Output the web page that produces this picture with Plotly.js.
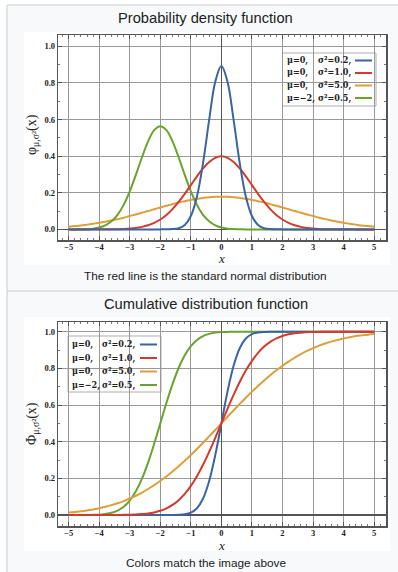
<!DOCTYPE html>
<html><head><meta charset="utf-8">
<script src="https://cdn.plot.ly/plotly-3.0.1.min.js"></script>
<style>html,body{margin:0;padding:0;background:#fff}#chart{width:398px;height:572px}</style>
</head><body><div id="chart"></div>
<script>
// ---- data ----
const xValues = [-5.0,-4.8,-4.6,-4.4,-4.2,-4.0,-3.8,-3.6,-3.4,-3.2,-3.0,-2.8,-2.6,-2.4,-2.2,-2.0,-1.8,-1.6,-1.4,-1.2,-1.0,-0.8,-0.6,-0.4,-0.2,0.0,0.2,0.4,0.6,0.8,1.0,1.2,1.4,1.6,1.8,2.0,2.2,2.4,2.6,2.8,3.0,3.2,3.4,3.6,3.8,4.0,4.2,4.4,4.6,4.8,5.0];

const pdfBlue = [0,0,0,0,0,0,0,0,0,0,0,0,0,0,0,0,0.0003,0.0015,0.0066,0.0244,0.0732,0.180,0.363,0.598,0.807,0.892,0.807,0.598,0.363,0.180,0.0732,0.0244,0.0066,0.0015,0.0003,0,0,0,0,0,0,0,0,0,0,0,0,0,0,0,0];
const pdfRed = [0,0,0,0,0.0001,0.0001,0.0003,0.0006,0.0012,0.0024,0.0044,0.0079,0.0136,0.0224,0.0355,0.054,0.079,0.111,0.150,0.194,0.242,0.290,0.333,0.368,0.391,0.399,0.391,0.368,0.333,0.290,0.242,0.194,0.150,0.111,0.079,0.054,0.0355,0.0224,0.0136,0.0079,0.0044,0.0024,0.0012,0.0006,0.0003,0.0001,0.0001,0,0,0,0];
const pdfOrange = [0.015,0.018,0.021,0.026,0.031,0.036,0.042,0.049,0.056,0.064,0.073,0.081,0.091,0.100,0.110,0.120,0.129,0.138,0.147,0.154,0.161,0.167,0.172,0.176,0.178,0.178,0.178,0.176,0.172,0.167,0.161,0.154,0.147,0.138,0.129,0.120,0.110,0.100,0.091,0.081,0.073,0.064,0.056,0.049,0.042,0.036,0.031,0.026,0.021,0.018,0.015];
const pdfGreen = [0,0,0.001,0.002,0.004,0.010,0.022,0.044,0.079,0.134,0.208,0.298,0.394,0.481,0.542,0.564,0.542,0.481,0.394,0.298,0.208,0.134,0.079,0.044,0.022,0.010,0.004,0.002,0.001,0,0,0,0,0,0,0,0,0,0,0,0,0,0,0,0,0,0,0,0,0,0];

const cdfBlue = [0,0,0,0,0,0,0,0,0,0,0,0,0,0,0,0,0,0,0.001,0.004,0.013,0.037,0.090,0.186,0.327,0.5,0.673,0.814,0.910,0.963,0.987,0.996,0.999,1,1,1,1,1,1,1,1,1,1,1,1,1,1,1,1,1,1];
const cdfRed = [0,0,0,0,0,0,0,0,0.0003,0.001,0.001,0.003,0.005,0.008,0.014,0.023,0.036,0.055,0.081,0.115,0.159,0.212,0.274,0.345,0.421,0.5,0.579,0.655,0.726,0.788,0.841,0.885,0.919,0.945,0.964,0.977,0.986,0.992,0.995,0.997,0.999,0.999,1,1,1,1,1,1,1,1,1];
const cdfOrange = [0.013,0.016,0.020,0.025,0.030,0.037,0.045,0.054,0.064,0.076,0.090,0.105,0.122,0.142,0.163,0.186,0.210,0.237,0.266,0.296,0.327,0.360,0.394,0.429,0.464,0.5,0.536,0.571,0.606,0.640,0.673,0.704,0.734,0.763,0.790,0.814,0.837,0.858,0.878,0.895,0.910,0.924,0.936,0.946,0.955,0.963,0.970,0.976,0.980,0.984,0.987];
const cdfGreen = [0,0,0,0,0.001,0.002,0.006,0.012,0.024,0.045,0.079,0.129,0.198,0.286,0.389,0.5,0.611,0.714,0.802,0.871,0.921,0.955,0.976,0.988,0.995,0.998,0.999,1,1,1,1,1,1,1,1,1,1,1,1,1,1,1,1,1,1,1,1,1,1,1,1];

const seriesMu = ["μ=0,", "μ=0,", "μ=0,", "μ=−2,"];
const seriesSigma = ["σ²=0.2,", "σ²=1.0,", "σ²=5.0,", "σ²=0.5,"];
const seriesColors = ["#3a64a3", "#d23b2b", "#dca03a", "#6aa22e"];

const xTickVals = [-5,-4,-3,-2,-1,0,1,2,3,4,5];
const xTickText = ["−5","−4","−3","−2","−1","0","1","2","3","4","5"];
const yTickVals = [0,0.2,0.4,0.6,0.8,1.0];
const yTickText = ["0.0","0.2","0.4","0.6","0.8","1.0"];

const titles = ["Probability density function", "Cumulative distribution function"];
const captions = ["The red line is the standard normal distribution", "Colors match the image above"];
const xTitle = "x";
const yTitles = ["φ<sub>μ,σ²</sub>(x)", "Φ<sub>μ,σ²</sub>(x)"];

// ---- layout helpers ----
const W = 398, H = 572;
const px = x => x / W;
const py = y => 1 - y / H;

function trace(y, color, xa, ya) {
  return {x: xValues, y: y, type: 'scatter', mode: 'lines', xaxis: xa, yaxis: ya,
    line: {color: color, width: 2, shape: 'spline', smoothing: 1},
    hoverinfo: 'skip', showlegend: false};
}

const data = [
  trace(pdfOrange, seriesColors[2], 'x', 'y'),
  trace(pdfGreen, seriesColors[3], 'x', 'y'),
  trace(pdfRed, seriesColors[1], 'x', 'y'),
  trace(pdfBlue, seriesColors[0], 'x', 'y'),
  trace(cdfGreen, seriesColors[3], 'x2', 'y2'),
  trace(cdfBlue, seriesColors[0], 'x2', 'y2'),
  trace(cdfOrange, seriesColors[2], 'x2', 'y2'),
  trace(cdfRed, seriesColors[1], 'x2', 'y2')
];

const tickFont = {family: "'Liberation Serif', 'DejaVu Serif', serif", size: 8.5, color: '#222', weight: 'bold'};
const frameColor = '#555';
const gridColor = '#999999';

function xAxis(anchor) {
  return {
    anchor: anchor, domain: [px(58.3), px(386)], range: [-5.34, 5.39],
    tickmode: 'array', tickvals: xTickVals, ticktext: xTickText,
    ticks: 'inside', ticklen: 4, tickwidth: 1, tickcolor: frameColor,
    ticklabelstandoff: -2,
    showline: true, linecolor: frameColor, linewidth: 1.5, mirror: 'allticks',
    showgrid: true, gridcolor: gridColor, gridwidth: 1,
    zeroline: true, zerolinecolor: '#555', zerolinewidth: 1.5,
    minor: {ticks: 'inside', ticklen: 2, tickwidth: 1, dtick: 0.2, tick0: 0, tickcolor: '#777', showgrid: false},
    tickfont: tickFont, fixedrange: true
  };
}
function yAxis(anchor, domain, range) {
  return {
    anchor: anchor, domain: domain, range: range,
    tickmode: 'array', tickvals: yTickVals, ticktext: yTickText,
    ticks: 'inside', ticklen: 4, tickwidth: 1, tickcolor: frameColor,
    showline: true, linecolor: frameColor, linewidth: 1.5, mirror: 'allticks',
    showgrid: true, gridcolor: gridColor, gridwidth: 1,
    zeroline: true, zerolinecolor: '#555', zerolinewidth: 1.5,
    minor: {ticks: 'inside', ticklen: 2, tickwidth: 1, dtick: 0.1, tick0: 0, tickcolor: '#777', showgrid: false},
    tickfont: tickFont, fixedrange: true
  };
}

const shapes = [
  {type: 'rect', xref: 'paper', yref: 'paper', x0: px(7), x1: px(400), y0: py(575), y1: py(5),
   fillcolor: '#f8f9fa', line: {color: '#c8ccd1', width: 1}, layer: 'below'},
  {type: 'line', xref: 'paper', yref: 'paper', x0: px(7), x1: px(400), y0: py(291), y1: py(291),
   line: {color: '#c8ccd1', width: 1}, layer: 'below'},
  {type: 'rect', xref: 'paper', yref: 'paper', x0: px(24), x1: px(390), y0: py(265), y1: py(32),
   fillcolor: '#ffffff', line: {width: 0}, layer: 'below'},
  {type: 'rect', xref: 'paper', yref: 'paper', x0: px(24), x1: px(390), y0: py(551), y1: py(317),
   fillcolor: '#ffffff', line: {width: 0}, layer: 'below'},
  // legend boxes
  {type: 'rect', xref: 'paper', yref: 'paper', x0: px(282.5), x1: px(376), y0: py(106), y1: py(53),
   fillcolor: '#ffffff', line: {color: '#999', width: 0.8}, layer: 'between'},
  {type: 'rect', xref: 'paper', yref: 'paper', x0: px(68), x1: px(161), y0: py(392), y1: py(336),
   fillcolor: '#ffffff', line: {color: '#999', width: 0.8}, layer: 'between'}
];

const annotations = [];
const titleFont = {family: "'Liberation Sans', Arial, sans-serif", size: 14.7, color: '#202122'};
const capFont = {family: "'Liberation Sans', Arial, sans-serif", size: 11.8, color: '#202122'};
const axTitleFont = {family: "'Liberation Serif', 'DejaVu Serif', serif", size: 13, style: 'italic', color: '#222'};
const yTitleFont = {family: "'Liberation Serif', 'DejaVu Serif', serif", size: 14, color: '#222'};
function note(text, x, y, font, extra) {
  annotations.push(Object.assign({text: text, xref: 'paper', yref: 'paper', x: px(x), y: py(y),
    xanchor: 'center', yanchor: 'middle', showarrow: false, font: font}, extra || {}));
}
note(titles[0], 205.7, 18.5, titleFont);
note(titles[1], 205.7, 304, titleFont);
note(captions[0], 205.7, 276.5, capFont);
note(captions[1], 205.7, 562.5, capFont);
note(xTitle, 221, 250, axTitleFont, {yanchor: 'top', borderpad: 0});
note(xTitle, 221, 537, axTitleFont, {yanchor: 'top', borderpad: 0});
note(yTitles[0], 32, 135, yTitleFont, {textangle: -90});
note(yTitles[1], 32, 424, yTitleFont, {textangle: -90});

const legFont = {family: "'DejaVu Serif Condensed', 'DejaVu Serif', serif", size: 9, color: '#222', weight: 'bold'};
function addLegend(x0, xs, lx0, lx1, rows) {
  for (let i = 0; i < 4; i++) {
    const yy = rows[i];
    note(seriesMu[i], x0, yy, legFont, {xanchor: 'left'});
    note(seriesSigma[i], xs, yy, legFont, {xanchor: 'left'});
    shapes.push({type: 'line', xref: 'paper', yref: 'paper', x0: px(lx0), x1: px(lx1), y0: py(yy), y1: py(yy),
      line: {color: seriesColors[i], width: 2}, layer: 'above'});
  }
}
addLegend(285, 316, 355, 372, [60.5, 73, 85.5, 98]);
addLegend(70, 100, 140, 157, [344.5, 358, 371.5, 385]);

const layout = {
  width: W, height: H, autosize: false,
  margin: {l: 0, r: 0, t: 0, b: 0},
  paper_bgcolor: '#ffffff', plot_bgcolor: '#ffffff',
  showlegend: false,
  xaxis: xAxis('y'),
  yaxis: yAxis('x', [py(240), py(35)], [-0.058, 1.062]),
  xaxis2: xAxis('y2'),
  yaxis2: yAxis('x2', [py(526), py(322)], [-0.06, 1.053]),
  shapes: shapes,
  annotations: annotations
};

Plotly.newPlot('chart', data, layout, {staticPlot: true, displayModeBar: false});
</script>
</body></html>
